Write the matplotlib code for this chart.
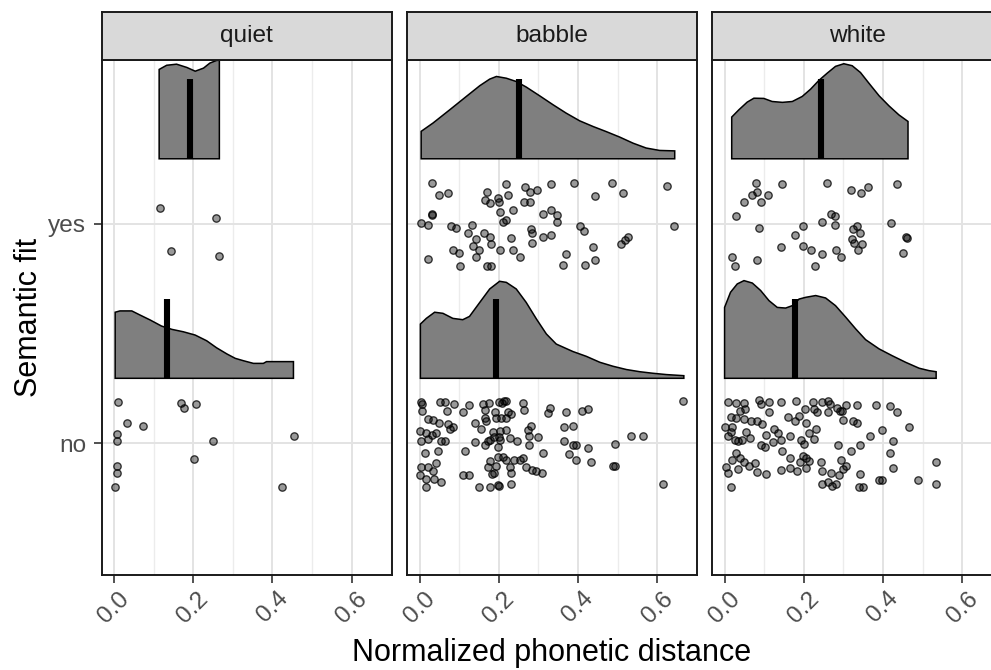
import numpy as np
import matplotlib
matplotlib.use('Agg')
import matplotlib.pyplot as plt
from matplotlib.ticker import FixedLocator

plt.rcParams['font.family'] = ['Liberation Sans', 'DejaVu Sans']

# ---------------- data ----------------
conditions = ['quiet', 'babble', 'white']
fit_levels = ['no', 'yes']
x_ticks = [0.0, 0.2, 0.4, 0.6]
x_tick_labels = ['0.0', '0.2', '0.4', '0.6']
x_label = 'Normalized phonetic distance'
y_label = 'Semantic fit'

# jittered observations: phonetic distance and vertical jitter
quiet_yes_x = [0.115, 0.258, 0.145, 0.266]
quiet_yes_jit = [0.069, 0.024, -0.124, -0.148]
quiet_no_x = [0.011, 0.168, 0.177, 0.206, 0.034, 0.074, 0.007, 0.007, 0.251, 0.455,
              0.202, 0.007, 0.007, 0.003, 0.423]
quiet_no_jit = [0.187, 0.181, 0.159, 0.179, 0.091, 0.079, 0.040, 0.009, 0.009, 0.030,
                -0.071, -0.105, -0.138, -0.200, -0.200]

babble_yes_x = [0.031, 0.219, 0.267, 0.332, 0.391, 0.486, 0.625, 0.050, 0.072, 0.170,
                0.223, 0.278, 0.297, 0.513, 0.444, 0.165, 0.177, 0.197, 0.200, 0.263,
                0.279, 0.237, 0.204, 0.312, 0.332, 0.347, 0.032, 0.031, 0.348, 0.219,
                0.210, 0.003, 0.020, 0.080, 0.092, 0.132, 0.406, 0.414, 0.643, 0.282,
                0.285, 0.123, 0.162, 0.177, 0.143, 0.181, 0.231, 0.311, 0.332, 0.283,
                0.526, 0.518, 0.508, 0.135, 0.149, 0.084, 0.099, 0.204, 0.237, 0.437,
                0.020, 0.143, 0.254, 0.370, 0.444, 0.103, 0.170, 0.181, 0.362, 0.418]
babble_yes_jit = [0.185, 0.178, 0.166, 0.178, 0.186, 0.186, 0.172, 0.131, 0.137, 0.144,
                  0.131, 0.145, 0.151, 0.137, 0.124, 0.109, 0.092, 0.115, 0.099, 0.096,
                  0.096, 0.063, 0.051, 0.043, 0.063, 0.037, 0.043, 0.037, 0.008, 0.017,
                  0.008, 0.004, -0.005, -0.013, -0.019, -0.005, -0.011, -0.033, -0.013, -0.024,
                  -0.045, -0.045, -0.045, -0.060, -0.072, -0.095, -0.068, -0.060, -0.054, -0.087,
                  -0.060, -0.075, -0.093, -0.101, -0.121, -0.119, -0.134, -0.119, -0.119, -0.107,
                  -0.162, -0.153, -0.154, -0.140, -0.168, -0.195, -0.195, -0.195, -0.188, -0.189]

babble_no_x = [0.003, 0.005, 0.052, 0.064, 0.087, 0.125, 0.161, 0.176, 0.200, 0.212, 0.217, 0.207,
               0.261, 0.329, 0.411, 0.426, 0.665,
               0.007, 0.069, 0.109, 0.165, 0.191, 0.223, 0.230, 0.263, 0.324, 0.369,
               0.020, 0.034, 0.166, 0.167, 0.194, 0.217, 0.205,
               0.049, 0.072, 0.084, 0.141, 0.155, 0.077, 0.282, 0.274, 0.364, 0.388,
               0.000, 0.017, 0.032, 0.042, 0.185, 0.202, 0.219, 0.188, 0.200, 0.227, 0.276,
               0.299, 0.533, 0.565,
               0.003, 0.022, 0.055, 0.064, 0.141, 0.166, 0.173, 0.177, 0.202, 0.247, 0.276,
               0.364, 0.388, 0.396, 0.426, 0.494,
               0.199, 0.114, 0.013, 0.046, 0.312, 0.377,
               0.042, 0.178, 0.198, 0.210, 0.219, 0.238, 0.253, 0.262, 0.396, 0.433, 0.494, 0.488,
               0.003, 0.021, 0.034, 0.172, 0.227, 0.269, 0.285, 0.295, 0.309, 0.188, 0.231, 0.194,
               0.000, 0.017, 0.037, 0.055, 0.109, 0.125, 0.182,
               0.016, 0.150, 0.177, 0.199, 0.200, 0.230, 0.614]
babble_no_jit = [0.188, 0.178, 0.187, 0.185, 0.179, 0.173, 0.176, 0.181, 0.187, 0.191, 0.193, 0.181,
                 0.181, 0.159, 0.147, 0.153, 0.193,
                 0.146, 0.146, 0.141, 0.150, 0.143, 0.141, 0.131, 0.150, 0.138, 0.140,
                 0.108, 0.105, 0.112, 0.099, 0.112, 0.112, 0.115,
                 0.090, 0.088, 0.074, 0.093, 0.064, 0.062, 0.080, 0.059, 0.071, 0.079,
                 0.056, 0.044, 0.038, 0.044, 0.052, 0.055, 0.059, 0.029, 0.029, 0.021, 0.032,
                 0.029, 0.032, 0.032,
                 0.009, 0.018, 0.011, 0.011, 0.003, -0.009, 0.009, 0.014, 0.014, 0.009, -0.009,
                 0.011, -0.009, -0.009, -0.024, -0.003,
                 -0.017, -0.036, -0.043, -0.036, -0.043, -0.050,
                 -0.090, -0.082, -0.065, -0.065, -0.077, -0.077, -0.077, -0.068, -0.077, -0.085, -0.105, -0.105,
                 -0.111, -0.111, -0.126, -0.111, -0.111, -0.108, -0.123, -0.126, -0.138, -0.138, -0.138, -0.105,
                 -0.146, -0.164, -0.164, -0.179, -0.146, -0.146, -0.143,
                 -0.200, -0.200, -0.200, -0.191, -0.196, -0.188, -0.188]

white_yes_x = [0.079, 0.146, 0.259, 0.436, 0.319, 0.345, 0.361, 0.048, 0.068, 0.083, 0.093, 0.109,
               0.029, 0.268, 0.279, 0.247, 0.278, 0.420, 0.086, 0.199, 0.177, 0.324, 0.334, 0.343,
               0.322, 0.327, 0.346, 0.338, 0.457, 0.461, 0.143, 0.199, 0.218, 0.247, 0.281, 0.294,
               0.229, 0.018, 0.026, 0.082, 0.451]
white_yes_jit = [0.186, 0.178, 0.186, 0.178, 0.151, 0.137, 0.165, 0.096, 0.131, 0.145, 0.096, 0.131,
                 0.036, 0.043, 0.036, 0.008, -0.005, 0.002, -0.019, -0.011, -0.052, -0.027, -0.011, -0.045,
                 -0.072, -0.087, -0.093, -0.119, -0.063, -0.068, -0.107, -0.101, -0.119, -0.140, -0.119, -0.154,
                 -0.195, -0.154, -0.195, -0.168, -0.134]

white_no_x = [0.008, 0.028, 0.048, 0.087, 0.093, 0.113, 0.142, 0.180, 0.224, 0.247, 0.260, 0.265,
              0.284, 0.306, 0.334, 0.383, 0.417, 0.436,
              0.040, 0.051, 0.111, 0.203, 0.226, 0.234, 0.260, 0.291, 0.297,
              0.016, 0.030, 0.048, 0.067, 0.082, 0.094, 0.161, 0.179, 0.188, 0.205, 0.300, 0.323, 0.334,
              0.000, 0.019, 0.016, 0.008, 0.053, 0.125, 0.134, 0.213, 0.232, 0.397, 0.465,
              0.026, 0.035, 0.045, 0.064, 0.105, 0.121, 0.142, 0.164, 0.192, 0.200, 0.226, 0.286,
              0.343, 0.368, 0.425, 0.091, 0.102,
              0.030, 0.018, 0.038, 0.049, 0.146, 0.165, 0.191, 0.206, 0.214, 0.199, 0.244, 0.294,
              0.319, 0.417, 0.534,
              0.003, 0.009, 0.033, 0.061, 0.077, 0.083, 0.104, 0.143, 0.164, 0.184, 0.205, 0.247,
              0.268, 0.289, 0.298, 0.306, 0.343, 0.425, 0.397,
              0.015, 0.247, 0.262, 0.271, 0.280, 0.340, 0.349, 0.391, 0.487, 0.534]
white_no_jit = [0.185, 0.181, 0.181, 0.196, 0.176, 0.187, 0.187, 0.193, 0.187, 0.187, 0.190, 0.178,
                0.158, 0.173, 0.173, 0.173, 0.167, 0.140,
                0.147, 0.155, 0.140, 0.153, 0.153, 0.143, 0.140, 0.144, 0.147,
                0.118, 0.115, 0.108, 0.099, 0.099, 0.088, 0.120, 0.099, 0.123, 0.090, 0.105, 0.100, 0.093,
                0.071, 0.074, 0.052, 0.033, 0.052, 0.065, 0.044, 0.044, 0.064, 0.059, 0.071,
                0.014, 0.008, 0.014, 0.024, 0.035, 0.006, 0.012, 0.032, 0.012, -0.005, 0.017, -0.009,
                -0.009, 0.032, 0.009, -0.009, -0.017,
                -0.043, -0.077, -0.070, -0.088, -0.036, -0.070, -0.085, -0.067, -0.082, -0.059, -0.085, -0.077,
                -0.036, -0.043, -0.084,
                -0.111, -0.138, -0.117, -0.105, -0.091, -0.131, -0.143, -0.123, -0.115, -0.125, -0.112, -0.126,
                -0.138, -0.146, -0.120, -0.103, -0.140, -0.112, -0.166,
                -0.199, -0.187, -0.176, -0.196, -0.187, -0.199, -0.199, -0.166, -0.166, -0.187]

# half-violin density profiles (distance grid, scaled density)
quiet_yes_vx = [0.114, 0.133, 0.158, 0.184, 0.205, 0.226, 0.242, 0.259, 0.266]
quiet_yes_vd = [0.407, 0.426, 0.431, 0.416, 0.399, 0.413, 0.436, 0.448, 0.449]
quiet_no_vx = [0.003, 0.015, 0.045, 0.066, 0.091, 0.120, 0.146, 0.175, 0.205, 0.234, 0.259,
               0.285, 0.306, 0.327, 0.352, 0.377, 0.385, 0.453]
quiet_no_vd = [0.301, 0.307, 0.307, 0.288, 0.266, 0.238, 0.223, 0.212, 0.197, 0.171, 0.139,
               0.111, 0.091, 0.080, 0.068, 0.068, 0.076, 0.076]
babble_yes_vx = [0.004, 0.034, 0.076, 0.118, 0.152, 0.177, 0.194, 0.219, 0.244, 0.269, 0.303,
                 0.337, 0.370, 0.404, 0.438, 0.471, 0.505, 0.539, 0.572, 0.606, 0.644]
babble_yes_vd = [0.125, 0.163, 0.223, 0.284, 0.333, 0.363, 0.375, 0.367, 0.352, 0.327, 0.287,
                 0.246, 0.208, 0.173, 0.147, 0.124, 0.099, 0.071, 0.049, 0.038, 0.036]
babble_no_vx = [0.002, 0.017, 0.038, 0.059, 0.084, 0.109, 0.126, 0.152, 0.177, 0.202, 0.219,
                0.244, 0.269, 0.295, 0.320, 0.345, 0.387, 0.421, 0.455, 0.488, 0.522, 0.556,
                0.589, 0.623, 0.667]
babble_no_vd = [0.247, 0.273, 0.301, 0.296, 0.273, 0.267, 0.282, 0.346, 0.407, 0.442, 0.437,
                0.407, 0.346, 0.270, 0.202, 0.156, 0.122, 0.100, 0.073, 0.055, 0.040, 0.030,
                0.023, 0.017, 0.012]
white_yes_vx = [0.018, 0.036, 0.057, 0.074, 0.099, 0.120, 0.146, 0.171, 0.196, 0.217, 0.238,
                0.259, 0.280, 0.301, 0.322, 0.343, 0.364, 0.390, 0.415, 0.440, 0.463]
white_yes_vd = [0.190, 0.223, 0.258, 0.276, 0.275, 0.261, 0.257, 0.261, 0.284, 0.317, 0.357,
                0.390, 0.421, 0.433, 0.424, 0.393, 0.345, 0.287, 0.241, 0.200, 0.170]
white_no_vx = [0.000, 0.015, 0.032, 0.049, 0.070, 0.091, 0.112, 0.133, 0.154, 0.171, 0.188,
               0.205, 0.230, 0.255, 0.280, 0.306, 0.331, 0.356, 0.390, 0.423, 0.457, 0.491,
               0.516, 0.534]
white_no_vd = [0.323, 0.392, 0.430, 0.445, 0.434, 0.400, 0.354, 0.323, 0.320, 0.331, 0.361,
               0.369, 0.377, 0.366, 0.331, 0.278, 0.225, 0.176, 0.134, 0.103, 0.073, 0.046,
               0.035, 0.030]

# group means (vertical bars)
mean_yes = [0.193, 0.252, 0.243]
mean_no = [0.133, 0.194, 0.178]

points = {
    ('quiet', 'yes'): (quiet_yes_x, quiet_yes_jit), ('quiet', 'no'): (quiet_no_x, quiet_no_jit),
    ('babble', 'yes'): (babble_yes_x, babble_yes_jit), ('babble', 'no'): (babble_no_x, babble_no_jit),
    ('white', 'yes'): (white_yes_x, white_yes_jit), ('white', 'no'): (white_no_x, white_no_jit),
}
violins = {
    ('quiet', 'yes'): (quiet_yes_vx, quiet_yes_vd), ('quiet', 'no'): (quiet_no_vx, quiet_no_vd),
    ('babble', 'yes'): (babble_yes_vx, babble_yes_vd), ('babble', 'no'): (babble_no_vx, babble_no_vd),
    ('white', 'yes'): (white_yes_vx, white_yes_vd), ('white', 'no'): (white_no_vx, white_no_vd),
}
means = {}
for i, c in enumerate(conditions):
    means[(c, 'yes')] = mean_yes[i]
    means[(c, 'no')] = mean_no[i]

# ---------------- style / layout ----------------
W, H = 991, 670
fig = plt.figure(figsize=(W / 100, H / 100), dpi=100)

panel_lefts = [101.7, 407.3, 712.3]
panel_w = 290.0
panel_top, panel_bot = 60.0, 575.0
strip_top = 11.7

violin_offset = 0.295
bar_height = 0.363
xlim = (-0.031, 0.701)
ylim = (0.399, 2.745)

border_col = '#1a1a1a'
grid_major = '#e3e3e3'
grid_minor = '#ececec'
tick_col = '#333333'
text_col = '#4d4d4d'

for i, cond in enumerate(conditions):
    left = panel_lefts[i] / W
    ax = fig.add_axes([left, 1 - panel_bot / H, panel_w / W, (panel_bot - panel_top) / H])
    ax.set_xlim(*xlim)
    ax.set_ylim(*ylim)
    ax.set_facecolor('white')

    # grid
    ax.xaxis.set_major_locator(FixedLocator(x_ticks))
    ax.xaxis.set_minor_locator(FixedLocator([0.1, 0.3, 0.5, 0.7]))
    ax.yaxis.set_major_locator(FixedLocator([1, 2]))
    ax.grid(True, which='major', color=grid_major, lw=1.4, zorder=0)
    ax.grid(True, which='minor', axis='x', color=grid_minor, lw=1.0, zorder=0)
    ax.set_axisbelow(True)

    for lvl_i, lvl in enumerate(fit_levels):
        pos = lvl_i + 1
        base = pos + violin_offset
        vx, vd = violins[(cond, lvl)]
        vx = np.asarray(vx)
        vd = np.asarray(vd)
        poly_x = np.concatenate([[vx[0]], vx, [vx[-1]]])
        poly_y = np.concatenate([[base], base + vd, [base]])
        ax.fill(poly_x, poly_y, facecolor='#7f7f7f', edgecolor='black', lw=1.1, zorder=2)
        m = means[(cond, lvl)]
        ax.plot([m, m], [base, base + bar_height], color='black', lw=4.4,
                solid_capstyle='butt', zorder=3)

        px, pj = points[(cond, lvl)]
        ax.scatter(px, pos + np.asarray(pj), s=28, facecolor=(0, 0, 0, 0.40),
                   edgecolor=(0, 0, 0, 0.78), linewidth=0.95, zorder=4)

    for sp in ax.spines.values():
        sp.set_color(border_col)
        sp.set_linewidth(1.4)
        sp.set_zorder(6)

    ax.set_xticks(x_ticks)
    ax.set_xticklabels(x_tick_labels, rotation=45, ha='center', va='top')
    ax.tick_params(axis='x', which='major', length=6, width=1.2, color=tick_col,
                   labelsize=17.6, labelcolor=text_col, pad=3)
    ax.tick_params(axis='x', which='minor', length=0)
    if i == 0:
        ax.set_yticks([1, 2])
        ax.set_yticklabels(fit_levels)
        ax.tick_params(axis='y', length=6, width=1.2, color=tick_col,
                       labelsize=17.6, labelcolor=text_col, pad=5)
    else:
        ax.tick_params(axis='y', length=0, labelleft=False)

    # facet strip
    sax = fig.add_axes([left, 1 - panel_top / H, panel_w / W, (panel_top - strip_top) / H])
    sax.set_facecolor('#d9d9d9')
    sax.set_xticks([])
    sax.set_yticks([])
    for sp in sax.spines.values():
        sp.set_color(border_col)
        sp.set_linewidth(1.4)
    sax.text(0.5, 0.5, cond, transform=sax.transAxes, ha='center', va='center',
             fontsize=17.6, color='#1a1a1a')

fig.text(552 / W, 1 - 661 / H, x_label, ha='center', va='baseline',
         fontsize=22, color='black')
fig.text(37 / W, 1 - 317.5 / H, y_label, ha='center', va='baseline', rotation=90,
         rotation_mode='anchor', fontsize=22, color='black')

fig.savefig('out.png', dpi=100)
